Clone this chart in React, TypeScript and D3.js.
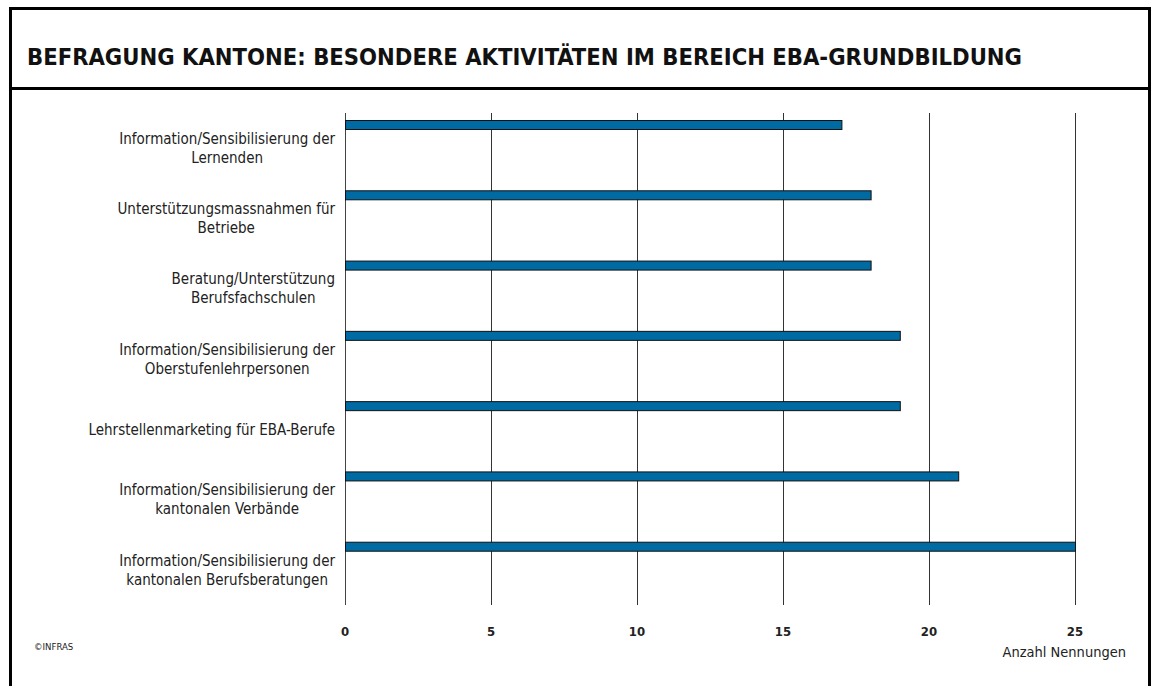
import React from "react";
import * as d3 from "d3";

const categories: string[][] = [
  ["Information/Sensibilisierung der", "Lernenden"],
  ["Unterstützungsmassnahmen für", "Betriebe"],
  ["Beratung/Unterstützung", "Berufsfachschulen"],
  ["Information/Sensibilisierung der", "Oberstufenlehrpersonen"],
  ["Lehrstellenmarketing für EBA-Berufe"],
  ["Information/Sensibilisierung der", "kantonalen Verbände"],
  ["Information/Sensibilisierung der", "kantonalen Berufsberatungen"],
];
const values: number[] = [17, 18, 18, 19, 19, 21, 25];
const ticks: number[] = [0, 5, 10, 15, 20, 25];
const title = "BEFRAGUNG KANTONE: BESONDERE AKTIVITÄTEN IM BEREICH EBA-GRUNDBILDUNG";
const axisTitle = "Anzahl Nennungen";
const credit = "©INFRAS";

const FONT = "'DejaVu Sans Condensed', 'DejaVu Sans', sans-serif";
const LABEL_SIZE = 15;

function measure(text: string, size: number, weight = "normal"): number {
  const c = document.createElement("canvas");
  const ctx = c.getContext("2d");
  if (!ctx) return text.length * size * 0.5;
  ctx.font = `${weight} ${size}px 'DejaVu Sans Condensed', 'DejaVu Sans', sans-serif`;
  return ctx.measureText(text).width;
}

export default function App() {
  const W = 1154;
  const H = 686;
  const plotLeft = 345;
  const plotRight = 1075;
  const plotTop = 113;
  const plotBottom = 605;

  const x = d3.scaleLinear().domain([0, 25]).range([plotLeft, plotRight]);
  const idx = categories.map((_, i) => String(i));
  const y = d3.scaleBand().domain(idx).range([plotTop, plotBottom]).paddingInner(0).paddingOuter(0);
  const bw = y.bandwidth();
  const barH = 10;
  const barOff = 7;
  const labelRight = 335;
  const lineH = 19;

  return (
    <svg width={W} height={H} style={{ position: "absolute", left: 0, top: 0, background: "#fff" }}>
      <rect x={0} y={0} width={W} height={H} fill="#fff" />
      {/* frame */}
      <rect x={10.5} y={8.5} width={1139} height={720} fill="none" stroke="#000" strokeWidth={3} />
      <line x1={10} x2={1150} y1={88.5} y2={88.5} stroke="#000" strokeWidth={3} />
      <text x={27} y={65} fontFamily={FONT} fontWeight="bold" fontSize={23} fill="#111"
        textLength={995} lengthAdjust="spacingAndGlyphs">{title}</text>

      {/* grid */}
      {ticks.map((t) => (
        <line key={"g" + t} x1={x(t) + 0.5} x2={x(t) + 0.5} y1={plotTop} y2={plotBottom}
          stroke={t === 0 ? "#444" : "#333"} strokeWidth={1} />
      ))}

      {/* bars */}
      {values.map((v, i) => (
        <rect key={"b" + i} x={x(0) + 0.5} y={(y(String(i)) as number) + barOff + 0.5}
          width={x(v) - x(0)} height={barH - 1} fill="#006ba3" stroke="#111" strokeWidth={1} />
      ))}

      {/* category labels */}
      {categories.map((lines, i) => {
        const cy = (y(String(i)) as number) + bw / 2;
        const maxW = Math.max(...lines.map((l) => measure(l, LABEL_SIZE)));
        const cx = labelRight - maxW / 2;
        const startY = cy - ((lines.length - 1) * lineH) / 2;
        return (
          <text key={"l" + i} fontFamily={FONT} fontSize={LABEL_SIZE} fill="#222" textAnchor="middle">
            {lines.map((l, j) => (
              <tspan key={j} x={cx} y={startY + j * lineH} dy="0.35em">{l}</tspan>
            ))}
          </text>
        );
      })}

      {/* tick labels */}
      {ticks.map((t) => (
        <text key={"t" + t} x={x(t)} y={636} textAnchor="middle" fontFamily={FONT}
          fontWeight="bold" fontSize={13} fill="#222">{t}</text>
      ))}
      <text x={1126} y={657} textAnchor="end" fontFamily={FONT} fontSize={14.5} fill="#222">{axisTitle}</text>
      <text x={34} y={650} fontFamily={FONT} fontSize={9.5} fill="#222">{credit}</text>
    </svg>
  );
}
